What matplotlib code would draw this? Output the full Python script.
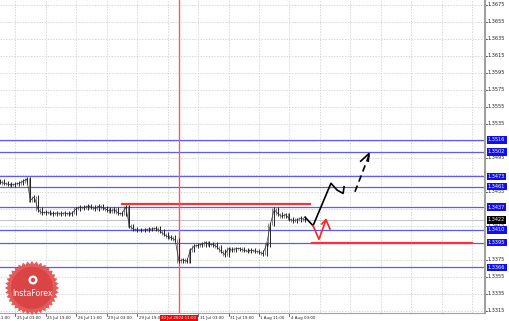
import numpy as np
import matplotlib
matplotlib.use("Agg")
import matplotlib.pyplot as plt
import matplotlib.transforms as mtransforms
from matplotlib.patches import Polygon, Circle

# closing prices, one every 2 hourly bars
closes = [
    1.3467, 1.3465, 1.3464, 1.3463, 1.3464, 1.3465, 1.3467, 1.3470, 1.3445, 1.3449,
    1.3434, 1.3430, 1.3431, 1.3430, 1.3429, 1.3430, 1.3429, 1.3430, 1.3429, 1.3430,
    1.3435, 1.3437, 1.3436, 1.3438, 1.3437, 1.3435, 1.3438, 1.3436, 1.3434, 1.3432,
    1.3434, 1.3430, 1.3429, 1.3437, 1.3415, 1.3411, 1.3410, 1.3410, 1.3410, 1.3411,
    1.3411, 1.3412, 1.3409, 1.3405, 1.3402, 1.3401, 1.3398, 1.3373, 1.3375, 1.3373,
    1.3386, 1.3391, 1.3392, 1.3393, 1.3395, 1.3393, 1.3393, 1.3390, 1.3385, 1.3381,
    1.3388, 1.3386, 1.3388, 1.3388, 1.3386, 1.3385, 1.3386, 1.3385, 1.3384, 1.3382,
    1.3393, 1.3417, 1.3434, 1.3429, 1.3426, 1.3428, 1.3423, 1.3421, 1.3422, 1.3424,
    1.3422,
]
last_price = 1.3422

blue_levels = [1.3516, 1.3502, 1.3473, 1.3461, 1.3437, 1.3410, 1.3395, 1.3366]
red_levels = [(1.3440, 64, 163), (1.3395, 164, 248)]

scale_prices = [1.3675, 1.3655, 1.3635, 1.3615, 1.3595, 1.3575, 1.3555, 1.3535,
                1.3515, 1.3495, 1.3475, 1.3455, 1.3435, 1.3415, 1.3395, 1.3375,
                1.3355, 1.3335, 1.3315]

tick_bars = [-8, 8, 24, 40, 56, 72, 88, 104, 120, 136, 152, 168, 184, 200, 216, 232, 248]
tick_labels = ["24 Jul 11:00", "25 Jul 03:00", "25 Jul 19:00", "26 Jul 11:00",
               "29 Jul 03:00", "29 Jul 19:00", "", "31 Jul 03:00", "31 Jul 19:00",
               "1 Aug 11:00", "4 Aug 03:00", "", "", "", "", "", ""]
cursor_bar = 94
cursor_label = "30 Jul 2024 11:00"

# forecast paths (bar index, price)
fc_main_x = [160.2, 164.4, 173.8, 177.0, 180.2, 180.7]
fc_main_y = [1.3425, 1.3415, 1.3465, 1.3457, 1.3453, 1.3461]
fc_dash_x = [186.4, 193.8]
fc_dash_y = [1.3455, 1.3498]
fc_head_x = [189.4, 193.8, 193.4]
fc_head_y = [1.3491, 1.3500, 1.3491]
fc_red_x = [164.4, 167.5, 171.2, 173.3]
fc_red_y = [1.3415, 1.3399, 1.3422, 1.3411]
fc_red_barb_x = [169.0, 171.2]
fc_red_barb_y = [1.3417, 1.3422]

W, H = 510, 321
fig = plt.figure(figsize=(W / 100, H / 100), dpi=100)
fig.patch.set_facecolor("white")
ax = fig.add_axes([0, (H - 313) / H, 485 / W, 313 / H])
ax.set_xlim(0, 254.7)
ax.set_ylim(1.3675 - 308 * 0.0001178, 1.3675 + 5 * 0.0001178)

grid_kw = dict(color="#c8c8c8", lw=0.5, ls=(0, (2, 2)), zorder=0)
for p in scale_prices:
    ax.axhline(p, **grid_kw)
for b in tick_bars:
    ax.axvline(b, **grid_kw)

ax.axhline(last_price, color="#c0c0c0", lw=0.7, zorder=1)
for lv in blue_levels:
    ax.axhline(lv, color="#5a5aff", lw=0.9, zorder=2)
for lv, b0, b1 in red_levels:
    ax.plot([b0, b1], [lv, lv], color="#ff3030", lw=1.6, zorder=3)
ax.axvline(cursor_bar, color="#ff5a5a", lw=1.0, zorder=3.5)

# price bars
xs = np.arange(len(closes)) * 2
prev = [closes[0]] + closes[:-1]
lo = np.minimum(prev, closes) - 0.00025
hi = np.maximum(prev, closes) + 0.00025
ax.vlines(xs, lo, hi, color="#222222", lw=0.7, zorder=4)
ax.vlines(xs - 1, lo + 0.0001, hi - 0.0001, color="#555555", lw=0.5, zorder=4)
ax.plot(xs, closes, color="#333333", lw=0.5, zorder=4)

# forecasts
ax.plot(fc_main_x, fc_main_y, color="black", lw=1.2, zorder=5)
ax.plot(fc_dash_x, fc_dash_y, color="black", lw=1.2, ls=(0, (4, 2.5)), zorder=5)
ax.plot(fc_head_x, fc_head_y, color="black", lw=1.2, zorder=5)
ax.plot(fc_red_x, fc_red_y, color="#ff2020", lw=1.2, zorder=5)
ax.plot(fc_red_barb_x, fc_red_barb_y, color="#ff2020", lw=1.2, zorder=5)

for s in ["left", "top"]:
    ax.spines[s].set_visible(False)
ax.spines["right"].set_color("#a0a0a0")
ax.spines["right"].set_linewidth(1.5)
ax.spines["bottom"].set_color("#a0a0a0")
ax.spines["bottom"].set_linewidth(0.8)
ax.set_xticks([])
ax.set_yticks([])

fs = 3.6
ytr = mtransforms.blended_transform_factory(ax.transAxes, ax.transData)
hidden = set()
for lv in blue_levels + [last_price]:
    for p in scale_prices:
        if abs(p - lv) < 0.00045:
            hidden.add(p)
for p in scale_prices:
    if p in hidden:
        continue
    ax.text(1.006, p, f"{p:.4f}", transform=ytr, fontsize=fs, color="#222222",
            va="center", ha="left", clip_on=False)
    ax.plot([1.0, 1.004], [p, p], transform=ytr, color="#222222", lw=0.5, clip_on=False)
for lv in blue_levels:
    ax.text(1.006, lv, f"{lv:.4f}", transform=ytr, fontsize=fs, color="white",
            va="center", ha="left", clip_on=False,
            bbox=dict(boxstyle="square,pad=0.25", fc="#1010ee", ec="none"))
ax.text(1.006, last_price, f"{last_price:.4f}", transform=ytr, fontsize=fs, color="white",
        va="center", ha="left", clip_on=False,
        bbox=dict(boxstyle="square,pad=0.25", fc="black", ec="none"))

xfs = 2.9
xtr = mtransforms.blended_transform_factory(ax.transData, ax.transAxes)
for b, lab in zip(tick_bars, tick_labels):
    if lab:
        ax.plot([b, b], [0, -0.008], transform=xtr, color="#222222", lw=0.5, clip_on=False)
        ax.text(b + 0.8, -0.011, lab, transform=xtr, fontsize=xfs, color="#222222",
                va="top", ha="left", clip_on=False)
ax.text(cursor_bar, -0.011, cursor_label, transform=xtr, fontsize=xfs, color="white",
        va="top", ha="center", clip_on=False, zorder=6,
        bbox=dict(boxstyle="square,pad=0.25", fc="#ff0000", ec="none"))

# InstaForex badge in pixel coordinates
ov = fig.add_axes([0, 0, 1, 1], zorder=10)
ov.set_xlim(0, W)
ov.set_ylim(H, 0)
ov.axis("off")
cx, cy = 32, 288
ang = np.linspace(0, 2 * np.pi, 73)
rad = np.where(np.arange(73) % 2 == 0, 27, 24)
star = np.column_stack([cx + rad * np.cos(ang), cy + rad * np.sin(ang)])
ov.add_patch(Polygon(star, closed=True, fc="#e25252", ec="none", alpha=0.95))
ov.add_patch(Circle((cx, cy), 21, fc="#da4444", ec="none"))
ov.add_patch(Circle((cx + 1, cy - 8), 4.5, fc="white", ec="none"))
ov.add_patch(Circle((cx + 1, cy - 8), 2.2, fc="#da4444", ec="none"))
ov.text(cx + 1, cy + 5, "InstaForex", fontsize=5.6, color="white",
        ha="center", va="center")

fig.savefig("out.png", dpi=100)
